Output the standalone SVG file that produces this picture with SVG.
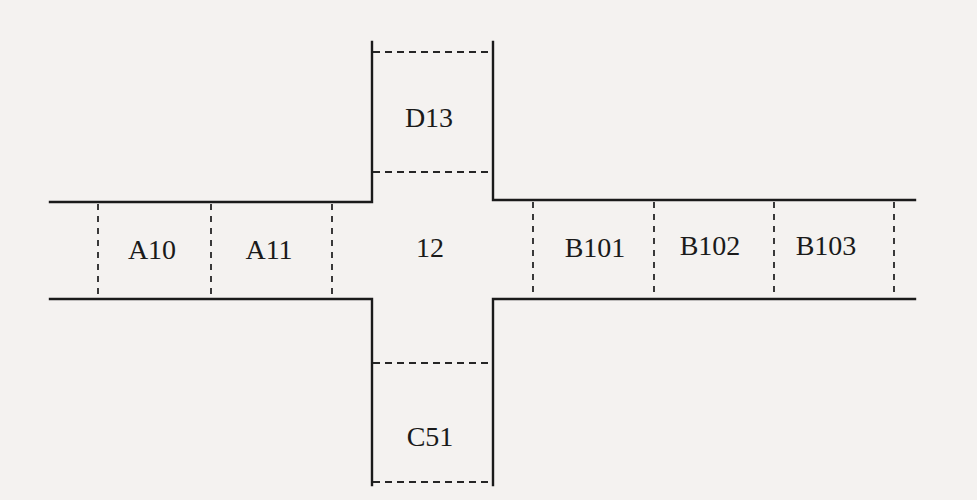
<svg xmlns="http://www.w3.org/2000/svg" width="977" height="500" viewBox="0 0 977 500">
  <style>
    .edge { fill: none; stroke: #1a1a1a; stroke-width: 2.4; stroke-linecap: square; stroke-linejoin: miter; }
    .dh { fill: none; stroke: #262626; stroke-width: 2; stroke-dasharray: 7 5; }
    .dv { fill: none; stroke: #262626; stroke-width: 1.8; stroke-dasharray: 6 6; }
    .lbl { font-family: "Liberation Serif", "Times New Roman", serif; font-size: 28px; fill: #1a1a1a; text-anchor: middle; }
  </style>
  <rect x="0" y="0" width="977" height="500" fill="#f4f2f0"/>

  <g id="connectors">
    <!-- road edges -->
    <path class="edge" d="M50,202 H372 V42"/>
    <path class="edge" d="M493,42 V200 H915"/>
    <path class="edge" d="M50,299 H372 V485"/>
    <path class="edge" d="M493,485 V299 H915"/>
  </g>

  <g id="D13">
    <line class="dh" x1="373" y1="52" x2="492" y2="52"/>
    <line class="dh" x1="373" y1="172" x2="492" y2="172"/>
    <text class="lbl" x="429" y="127">D13</text>
  </g>

  <g id="A10">
    <line class="dv" x1="98" y1="204" x2="98" y2="298"/>
    <text class="lbl" x="152" y="259">A10</text>
  </g>

  <g id="A11">
    <line class="dv" x1="211" y1="204" x2="211" y2="298"/>
    <line class="dv" x1="332" y1="204" x2="332" y2="298"/>
    <text class="lbl" x="269" y="259">A11</text>
  </g>

  <g id="I12">
    <text class="lbl" x="430" y="257">12</text>
  </g>

  <g id="B101">
    <line class="dv" x1="533" y1="202" x2="533" y2="298"/>
    <line class="dv" x1="654" y1="202" x2="654" y2="298"/>
    <text class="lbl" x="595" y="257">B101</text>
  </g>

  <g id="B102">
    <line class="dv" x1="774" y1="202" x2="774" y2="298"/>
    <text class="lbl" x="710" y="255">B102</text>
  </g>

  <g id="B103">
    <line class="dv" x1="894" y1="202" x2="894" y2="298"/>
    <text class="lbl" x="826" y="255">B103</text>
  </g>

  <g id="C51">
    <line class="dh" x1="373" y1="363" x2="492" y2="363"/>
    <line class="dh" x1="373" y1="482" x2="492" y2="482"/>
    <text class="lbl" x="430" y="446">C51</text>
  </g>
</svg>
